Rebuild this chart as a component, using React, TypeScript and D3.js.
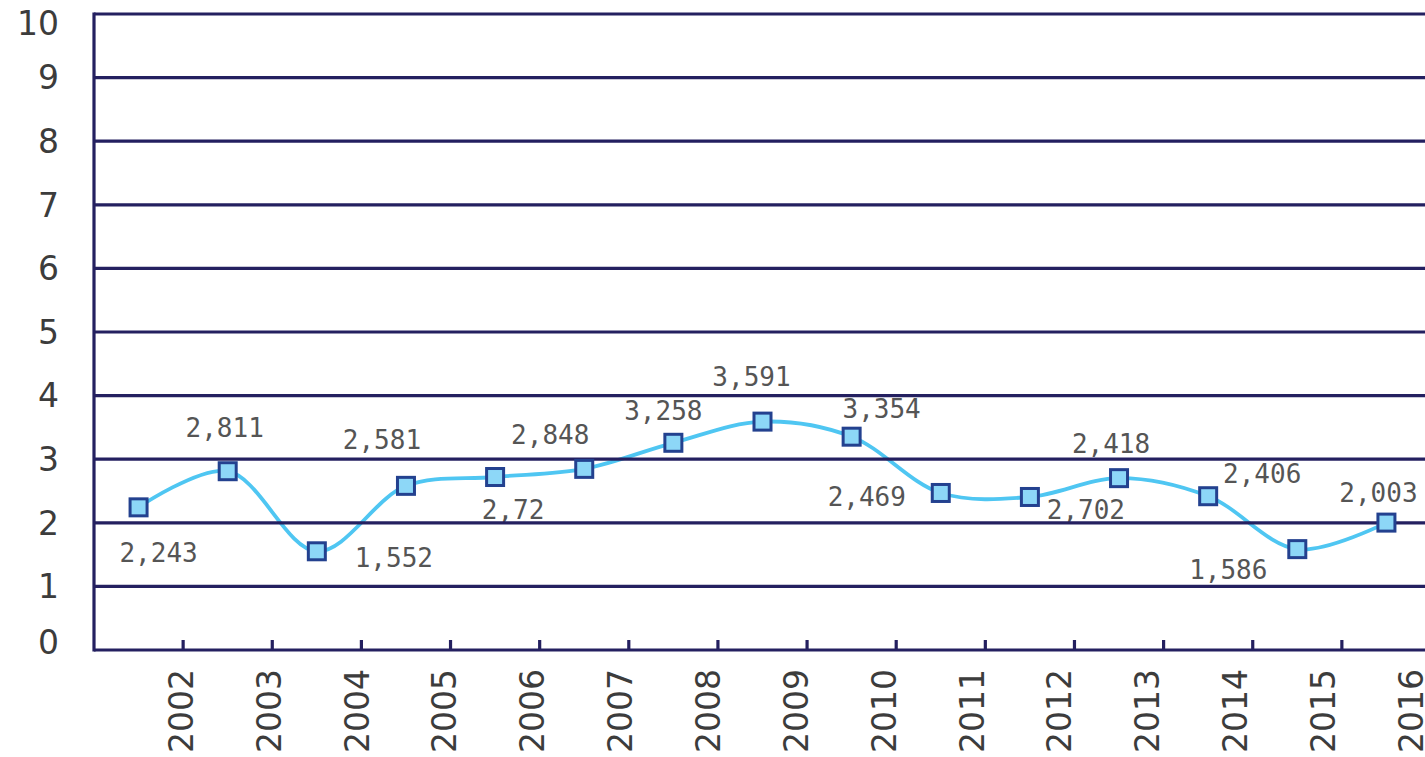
import React from 'react';
import * as d3 from 'd3';

const years = ['2002', '2003', '2004', '2005', '2006', '2007', '2008', '2009', '2010', '2011', '2012', '2013', '2014', '2015', '2016'];
const values = [2.243, 2.811, 1.552, 2.581, 2.72, 2.848, 3.258, 3.591, 3.354, 2.469, 2.406, 2.702, 2.418, 1.586, 2.003];
// text printed next to each marker, as it stands in the picture
const pointLabels = ['2,243', '2,811', '1,552', '2,581', '2,72', '2,848', '3,258', '3,591', '3,354', '2,469', '2,702', '2,418', '2,406', '1,586', '2,003'];
const yTicks = [0, 1, 2, 3, 4, 5, 6, 7, 8, 9, 10];

// where each label sits relative to its marker (px)
const labelNudge: [number, number][] = [
  [20, 46], [-3, -43], [77, 7], [-24, -46], [18, 33], [-34, -34], [-10, -32], [-11, -45],
  [30, -28], [-74, 4], [56, 13], [-8, -34], [54, -22], [-69, 21], [-8, -30],
];

const W = 1425;
const H = 757;
const left = 94;
const right = 1431;
const top = 14;
const bottom = 650;

const GRID = '#242060';

const App = () => {
  const x = d3.scaleBand<string>().domain(years).range([left, right]).padding(0);
  const y = d3.scaleLinear().domain([0, 10]).range([bottom, top]);
  // the year labels drift a little left of the ticks, as in the source
  const xl = d3.scalePoint<string>().domain(years).range([181, 1411]);
  const cx = (i: number) => (x(years[i]) as number) + x.bandwidth() / 2;

  const line = d3
    .line<number>()
    .x((_, i) => cx(i))
    .y((d) => y(d))
    .curve(d3.curveCatmullRom.alpha(0.5));

  const m = 17;

  return (
    <svg width={W} height={H} style={{ position: 'fixed', left: 0, top: 0, background: '#fff' }}>
      <path d={line(values) || ''} fill="none" stroke="#4fc6f2" strokeWidth={3.8} />

      <g fontFamily="'DejaVu Sans Mono', monospace" fontSize={26} fill="#555" textAnchor="middle">
        {values.map((v, i) => (
          <text key={i} x={cx(i) + labelNudge[i][0]} y={y(v) + labelNudge[i][1]} dy="0.35em">
            {pointLabels[i]}
          </text>
        ))}
      </g>

      <g stroke={GRID} strokeWidth={3.2}>
        {yTicks.slice(1).map((t) => (
          <line key={t} x1={left} x2={W} y1={y(t)} y2={y(t)} />
        ))}
        <line x1={left} x2={W} y1={bottom} y2={bottom} />
        <line x1={left} x2={left} y1={top - 1.6} y2={bottom + 1.6} />
        {years.map((yr) => {
          const tx = (x(yr) as number) + x.bandwidth();
          return <line key={yr} x1={tx} x2={tx} y1={bottom} y2={bottom - 10} />;
        })}
      </g>

      <g fontFamily="'DejaVu Sans', sans-serif" fontSize={33} fill="#3c3c3c" textAnchor="end">
        {yTicks.map((t) => (
          <text key={t} x={59} y={Math.min(Math.max(y(t), 23), 642)} dy="0.36em">
            {t}
          </text>
        ))}
      </g>

      <g fontFamily="'DejaVu Sans', sans-serif" fontSize={33} fill="#3c3c3c" textAnchor="end">
        {years.map((yr) => (
          <text key={yr} transform={`translate(${xl(yr)},669) rotate(-90)`} dy="0.36em">
            {yr}
          </text>
        ))}
      </g>

      <g fill="#8dd7f7" stroke="#23418f" strokeWidth={3}>
        {values.map((v, i) => (
          <rect key={i} x={cx(i) - m / 2} y={y(v) - m / 2} width={m} height={m} />
        ))}
      </g>
    </svg>
  );
};

export default App;
